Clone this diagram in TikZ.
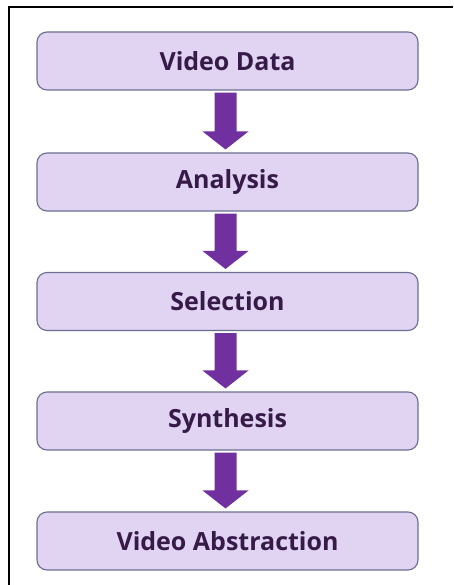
\documentclass[tikz,border=0pt]{standalone}
\usepackage{fontspec}
\setmainfont{Open Sans}
\usetikzlibrary{calc}
\definecolor{boxfill}{HTML}{E1D3F2}
\definecolor{boxline}{HTML}{6B6F8F}
\definecolor{txtcol}{HTML}{361A48}
\definecolor{arrowcol}{HTML}{7030A0}
\tikzset{
  stepbox/.style={draw=boxline, line width=1.1pt, fill=boxfill, rounded corners=10pt,
    minimum width=381pt, minimum height=58pt, inner sep=0pt,
    font=\fontsize{25}{30}\selectfont\bfseries, text=txtcol},
  fatarrow/.style={fill=arrowcol}
}
\begin{document}
\begin{tikzpicture}[x=1pt,y=-1pt]
\useasboundingbox (0,0) rectangle (453,585);
\fill[white] (0,0) rectangle (453,585);
\draw[black, line width=1.5pt] (9,585) -- (9,7) -- (453,7);
\node[stepbox] (n1) at (227.5,61) {Video Data};
\node[stepbox] (n2) at (227.5,182) {Analysis};
\node[stepbox] (n3) at (227.5,301.5) {Selection};
\node[stepbox] (n4) at (227.5,421) {Synthesis};
\node[stepbox] (n5) at (227.5,541) {Video Abstraction};
\foreach \a/\b in {n1/n2,n2/n3,n3/n4,n4/n5}{
  \fill[fatarrow] ($(\a.south)+(-13,2)$) -- ($(\b.north)+(-13,-21)$) -- ($(\b.north)+(-25,-21)$)
    -- ($(\b.north)+(-2,-3)$) -- ($(\b.north)+(21,-21)$) -- ($(\b.north)+(9,-21)$)
    -- ($(\a.south)+(9,2)$) -- cycle;
}
\end{tikzpicture}
\end{document}
